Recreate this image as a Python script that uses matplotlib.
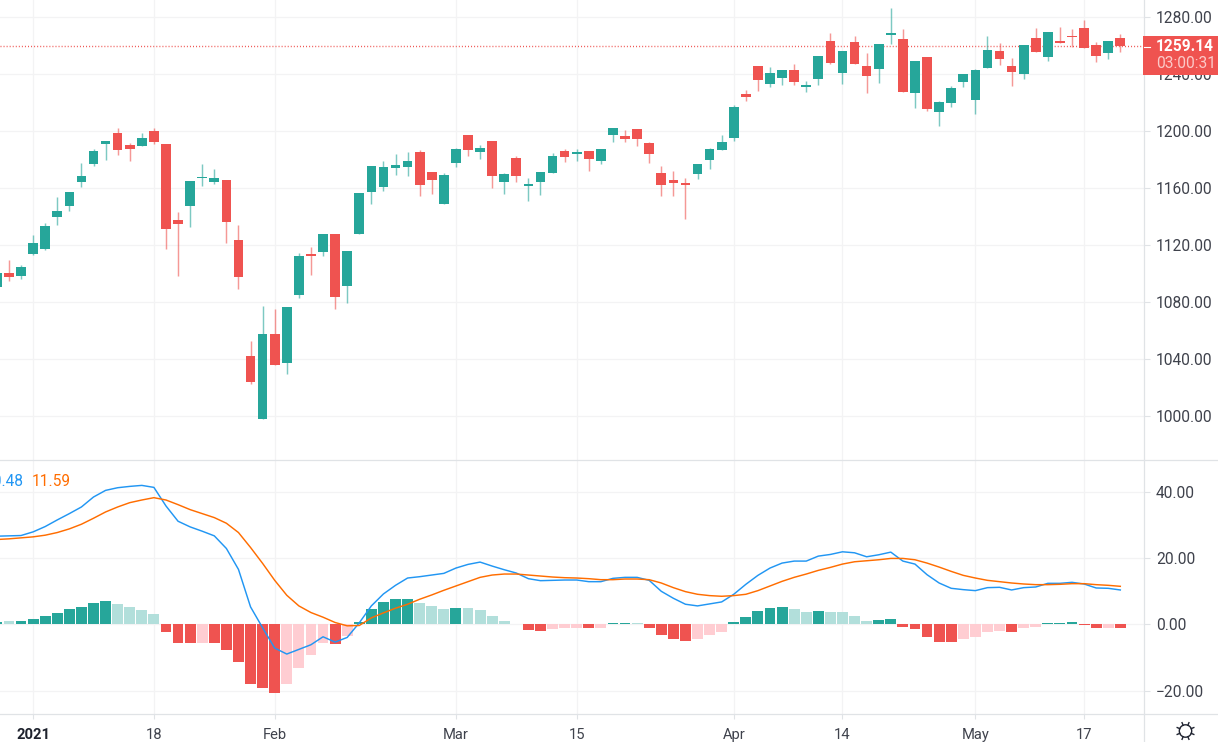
import matplotlib
matplotlib.use("Agg")
import matplotlib.pyplot as plt
from matplotlib.lines import Line2D
from matplotlib.patches import Circle, Rectangle
import numpy as np

plt.rcParams['font.family'] = ['Roboto', 'DejaVu Sans']

# ---- data (bar index 0 = first January 2021 tick; first visible bar = -3) ----
first_bar = -3
opens = [1090,1100,1097.8,1113.2,1116.7,1139.2,1146.9,1163.7,1176.4,1190.4,
         1198.1,1189.7,1189,1199.5,1190.4,1137.1,1146.9,1166.5,1163.7,1165.1,
         1123,1041.6,997.4,1057.1,1036.7,1084.4,1113.2,1114.6,1127.3,1090.8,
         1127.3,1156.7,1160.2,1173.6,1174.3,1184.8,1170.8,1148.3,1177.1,1196.7,
         1184.8,1192.5,1163.7,1180.6,1160.9,1163.7,1170.1,1185.5,1183.4,1185.5,
         1178.5,1196.7,1196,1200.9,1191.1,1170.1,1165.1,1163,1169.4,1179.2,
         1186.2,1194.6,1225.5,1245.1,1232.5,1236.7,1242.3,1230.6,1236.2,1262.6,
         1240.3,1261.9,1245.2,1243.1,1266.8,1264,1226.4,1251.5,1213.2,1219.5,
         1234.1,1221.6,1243.8,1255.7,1245.2,1239.7,1264.7,1251.5,1262.6,1266.1,
         1272.3,1259.8,1254.3,1264.7]
highs = [1100,1109,1105.5,1126.5,1135,1153.2,1156.7,1177.1,1186.9,1192.5,
         1201.6,1191.1,1198.1,1201.6,1190.4,1142.7,1164.4,1176.4,1172.9,1165.1,
         1133.6,1052.2,1076.7,1074.6,1076,1113.9,1118.1,1127.3,1127.3,1115.3,
         1156,1175,1178.5,1183.4,1184.8,1186.2,1170.8,1170.1,1187.6,1196.7,
         1189.7,1192.5,1170.1,1182,1166.5,1170.8,1184.1,1186.9,1186.9,1185.5,
         1186.9,1201.6,1200.2,1200.9,1191.8,1175,1171.5,1166.5,1176.4,1187.6,
         1196.7,1217.8,1228.3,1245.1,1244.4,1242.4,1246.5,1234.8,1252.2,1268.2,
         1255.7,1266.1,1254.3,1260.5,1286.3,1271.7,1248.7,1251.5,1220.9,1231.3,
         1239.7,1243.1,1266.1,1261.2,1250.8,1259.8,1272.3,1268.9,1273,1271,
         1277.9,1261.9,1262.6,1267.5]
lows = [1089,1094.3,1095.7,1113,1116,1133.6,1143.4,1160.2,1175,1179.2,
        1182.7,1178.5,1189,1190.4,1116.7,1097.8,1132.2,1160.9,1162.3,1120.9,
        1088.7,1022,997.4,1035.3,1029,1082.3,1098.5,1111.8,1074.6,1078.8,
        1127.3,1148.3,1157.4,1168.7,1168,1153.9,1155.3,1148.3,1174.3,1182,
        1179.9,1159.5,1155.3,1163.7,1150.4,1154.6,1170.1,1177.8,1178.5,1171.5,
        1176.4,1191.8,1191.8,1189,1177.1,1153.9,1153.9,1137.8,1165.8,1172.9,
        1186.2,1192.5,1220.7,1227.6,1230.4,1231.8,1231.8,1227.1,1232.2,1246.6,
        1232.7,1246.6,1226.4,1233.4,1260.5,1227.1,1216,1213.9,1203.5,1216.7,
        1230.6,1211.8,1243.8,1245.9,1231.3,1236.2,1255,1248.7,1261.2,1258.4,
        1257.7,1248,1250.1,1255]
closes = [1100,1097,1104.1,1121,1132.9,1143.4,1156.7,1168,1185.5,1192.5,
          1186.2,1186.9,1194.6,1191.8,1130.8,1134.3,1164.4,1167.3,1166.5,1135.7,
          1097.1,1023.4,1057.1,1035.3,1076,1111.8,1111.8,1127.3,1083,1115.3,
          1156,1175,1174.3,1175.7,1178.5,1161.6,1165.1,1168.7,1186.9,1186.2,
          1187.6,1168,1169.4,1168,1162.3,1170.8,1182,1181.3,1184.8,1179.9,
          1186.9,1201.6,1193.9,1193.9,1183.4,1161.6,1163,1161.6,1176.4,1186.9,
          1191.8,1216.4,1223.5,1235.3,1240.2,1242.3,1233.9,1232,1252.2,1247.3,
          1255.7,1246.6,1238.3,1260.5,1268.2,1227.1,1248.7,1215.3,1220.2,1229.9,
          1239.7,1242.4,1256.3,1250.1,1241,1259.8,1255,1268.9,1261.2,1265.6,
          1257.7,1252.2,1262.6,1259.14]

hist = [0.9,1.0,1.0,1.6,2.5,3.4,4.6,5.2,6.4,7.0,6.1,5.2,4.3,3.1,-2.3,-5.6,-5.6,-5.6,-5.6,
        -7.7,-11.3,-17.9,-19.1,-20.6,-17.9,-13.1,-9.2,-5.6,-5.9,-3.5,0.7,4.6,6.7,7.6,7.7,
        6.5,5.6,4.7,5.0,5.0,4.4,2.6,1.1,0.2,-1.6,-1.9,-1.3,-1.0,-1.0,-1.0,-1.0,0.5,0.5,0.4,
        -1.0,-3.1,-4.3,-4.9,-4.3,-3.1,-2.2,0.7,2.3,4.1,5.0,5.3,4.7,3.9,4.2,3.9,3.9,2.7,1.2,
        1.5,1.8,-0.9,-1.5,-3.9,-5.4,-5.4,-4.5,-3.9,-2.4,-2.1,-2.4,-1.2,-0.9,0.5,0.5,0.8,-0.3,
        -1.2,-1.2,-1.2]
hist_faded = [0,1,0,0,0,0,0,0,0,0,1,1,1,1,0,0,0,1,0,
              0,0,0,0,0,1,1,1,1,0,1,0,0,0,0,0,
              1,1,1,0,1,1,1,1,1,0,0,1,1,1,0,1,0,0,1,
              0,0,0,0,1,1,1,0,0,0,0,0,1,1,0,1,1,1,1,
              0,0,0,0,0,0,0,1,1,1,1,0,1,1,0,0,0,0,
              0,1,0]
macd = [26.6,26.7,26.8,27.9,29.5,31.5,33.4,35.4,38.4,40.4,41.2,41.6,41.9,41.3,35.7,31.1,29.4,28.1,26.7,
        22.9,16.6,5.3,-1.0,-7.1,-8.9,-7.5,-6.1,-3.7,-5.3,-3.9,0.5,5.6,9.2,11.8,14.0,
        14.4,14.9,15.4,17.0,18.1,18.8,17.6,16.5,15.5,13.8,13.2,13.3,13.4,13.4,12.9,12.9,13.9,14.2,14.2,
        13.3,10.0,7.9,6.1,5.6,6.2,6.8,9.1,12.1,14.8,17.0,18.5,19.1,19.1,20.6,21.1,21.9,21.6,20.4,
        21.0,21.8,19.1,18.2,15.0,12.5,10.9,10.5,10.2,11.1,11.2,10.4,11.1,11.3,12.4,12.4,12.7,12.2,
        11.0,10.9,10.4]
signal = [25.6,25.8,26.1,26.4,26.9,27.7,28.8,30.2,32.0,33.9,35.4,36.7,37.5,38.2,37.5,36.1,34.6,33.4,32.2,
          30.5,27.7,23.2,18.4,13.3,8.8,5.6,3.6,2.2,0.6,-0.4,-0.3,2.0,3.5,4.9,6.1,
          7.6,8.9,10.3,11.6,12.9,14.2,14.9,15.2,15.2,14.9,14.6,14.3,14.1,14.0,13.8,13.5,13.5,13.7,13.7,
          13.5,12.5,11.1,9.9,9.1,8.7,8.5,8.7,9.1,10.2,11.6,13.0,14.2,15.2,16.3,17.2,18.2,18.9,19.2,
          19.5,19.9,19.9,19.5,18.5,17.3,16.0,14.8,14.0,13.3,12.9,12.5,12.2,12.0,12.0,12.1,12.3,12.3,
          12.0,11.8,11.5]

price_ticks = [1000,1040,1080,1120,1160,1200,1240,1280]
macd_ticks = [-20,0,20,40]
time_ticks = [0,10,20,35,45,58,67,78,87]
time_labels = ['2021','18','Feb','Mar','15','Apr','14','May','17']
last_price = 1259.14
countdown = '03:00:31'
macd_legend = '10.48'
signal_legend = '11.59'

# ---- styling ----
W, H = 1218, 742
TEAL, RED = '#26a69a', '#ef5350'
LTEAL, LRED = '#b2dfdb', '#ffcdd2'
GRID, BORDER, TXT = '#f3f3f4', '#e0e3e6', '#3f424c'
FS = 11.2

fig = plt.figure(figsize=(W/100, H/100), dpi=100, facecolor='white')

def box(x0, y0, x1, y1):
    return [x0/W, 1-y1/H, (x1-x0)/W, (y1-y0)/H]

ax = fig.add_axes(box(0, 0, 1144, 460))
am = fig.add_axes(box(0, 460, 1144, 714), sharex=ax)
ax.set_ylim(968.9, 1291.7)
am.set_ylim(-26.96, 49.55)
ax.set_xlim(-2.74, 91.96)

n = len(opens)
idx = np.arange(first_bar, first_bar+n)
o, h, l, c = map(np.array, (opens, highs, lows, closes))
up = c >= o
cols = np.where(up, TEAL, RED)

for a in (ax, am):
    a.set_axisbelow(True)
    for s in a.spines.values():
        s.set_visible(False)
    a.grid(True, color=GRID, lw=0.9)
    a.yaxis.tick_right()
    a.set_xticks(time_ticks)
    a.tick_params(axis='y', length=4.3, width=0.8, color=BORDER, pad=4.3,
                  labelsize=FS, labelcolor=TXT)

ax.axhline(last_price, color=RED, lw=1.0, ls=(0, (0.7, 1.5)), zorder=1)
ax.vlines(idx, l, h, colors=cols, lw=1.05, alpha=0.6, zorder=2)
ax.bar(idx, np.maximum(np.abs(c-o), 0.35), bottom=np.minimum(o, c), width=0.8,
       color=cols, lw=0, zorder=3)
ax.set_yticks(price_ticks)
ax.set_yticklabels([f'{v:.2f}' for v in price_ticks])
ax.tick_params(axis='x', length=0, labelbottom=False)

hv = np.array(hist)
hc = [(LTEAL if f else TEAL) if v >= 0 else (LRED if f else RED)
      for v, f in zip(hist, hist_faded)]
am.bar(idx, hv, width=0.9, color=hc, lw=0, zorder=2)
am.plot(idx, macd, color='#2196f3', lw=1.05, zorder=3)
am.plot(idx, signal, color='#ff6d00', lw=1.05, zorder=4)
am.set_yticks(macd_ticks)
am.set_yticklabels([f'{v:.2f}'.replace('-', '\u2212') for v in macd_ticks])
am.set_xticklabels(time_labels)
am.tick_params(axis='x', length=3.6, width=0.8, color=BORDER, pad=6.5,
               labelsize=10.6, labelcolor=TXT)
for t in am.get_xticklabels():
    if t.get_text() == '2021':
        t.set_fontweight('bold')
        t.set_color('#1e222d')

# ---- chrome in pixel coordinates ----
ov = fig.add_axes([0, 0, 1, 1], facecolor='none', zorder=5)
ov.set_xlim(0, W)
ov.set_ylim(H, 0)
ov.axis('off')
ov.add_line(Line2D([0, W], [460, 460], color=BORDER, lw=0.9))
ov.add_line(Line2D([0, W], [714, 714], color=BORDER, lw=0.9))
ov.add_line(Line2D([1144, 1144], [0, H], color=BORDER, lw=0.9))
ov.text(24, 481, macd_legend, color='#2196f3', fontsize=FS, ha='right', va='center')
ov.text(32, 481, signal_legend, color='#ff6d00', fontsize=FS, ha='left', va='center')

ov.add_patch(Rectangle((1143, 36), 75, 39, color=RED, lw=0, zorder=6))
ov.add_line(Line2D([1144, 1150], [46.5, 46.5], color='white', lw=0.8, zorder=7))
ov.text(1156, 46.5, f'{last_price:.2f}', color='white', fontweight='bold', fontsize=FS,
        ha='left', va='center', zorder=7)
ov.text(1156, 64, countdown, color='#fbc9c8', fontsize=FS, ha='left', va='center', zorder=7)

ov.add_patch(Circle((1185.5, 731), 6.2, fc='none', ec='#1f2330', lw=1.0))
for ang in np.deg2rad(np.arange(0, 360, 45)+22.5):
    ov.add_line(Line2D([1185.5+6.2*np.cos(ang), 1185.5+9*np.cos(ang)],
                       [731+6.2*np.sin(ang), 731+9*np.sin(ang)], color='#1f2330', lw=1.0))

fig.savefig('out.png', dpi=100)
